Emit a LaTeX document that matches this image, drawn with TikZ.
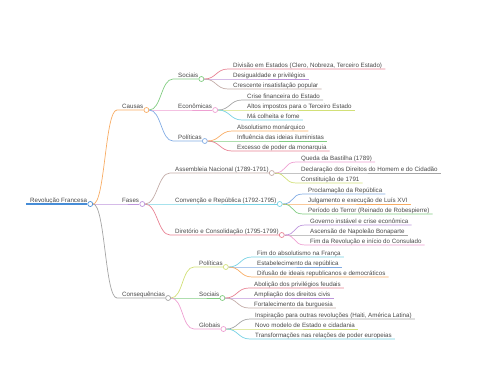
\documentclass[tikz,border=0pt]{standalone}
\usepackage{fontspec}
\setmainfont{Liberation Sans}
\usetikzlibrary{calc}
\definecolor{mmtext}{RGB}{72,72,72}
\definecolor{mmroot}{RGB}{70,140,215}
\definecolor{mmorange}{RGB}{248,172,100}
\definecolor{mmpurple}{RGB}{190,150,220}
\definecolor{mmgray}{RGB}{165,165,165}
\definecolor{mmgreen}{RGB}{130,205,130}
\definecolor{mmpink}{RGB}{238,160,210}
\definecolor{mmblue}{RGB}{130,172,228}
\definecolor{mmred}{RGB}{232,130,148}
\definecolor{mmbrown}{RGB}{195,172,168}
\definecolor{mmyellow}{RGB}{210,224,120}
\definecolor{mmcyan}{RGB}{120,210,228}
\tikzset{
  topic/.style={anchor=base west, inner sep=0pt, font=\fontsize{6.2}{7}\selectfont, text=mmtext},
  knot/.style={circle, draw=#1, fill=white, line width=0.7pt, minimum size=5pt, inner sep=0pt},
  branch/.style={draw=#1, line width=0.7pt}
}
% connector from a knot to a topic that has its own knot
\newcommand{\mmlink}[3]{\draw[branch=#3] (#1.east) .. controls +(12,0) and +(-12,0) .. ($(#2.base west)+(-5,2)$) -- (#2-k.west);}
% connector from a knot to a leaf
\newcommand{\mmleaf}[3]{\draw[branch=#3] (#1.east) .. controls +(12,0) and +(-12,0) .. ($(#2.base west)+(-5,2)$) -- ($(#2.base east)+(3,2)$);}

\begin{document}
\begin{tikzpicture}[x=1pt, y=-1pt]
\useasboundingbox (0,0) rectangle (480,384);

% root
\node[topic] (rev) at (30,202) {Revolução Francesa};
\node[knot=mmroot] (rev-k) at ($(rev.base east)+(3,2)$) {};
\draw[mmroot, line width=1.3pt] ($(rev.base west)+(-4,2)$) -- (rev-k.west);

% main branches
\node[topic] (causas) at (122,108) {Causas};
\node[topic] (fases) at (122,202) {Fases};
\node[topic] (cons) at (122,296) {Consequências};
\node[knot=mmorange] (causas-k) at ($(causas.base east)+(3,2)$) {};
\node[knot=mmpurple] (fases-k) at ($(fases.base east)+(3,2)$) {};
\node[knot=mmgray] (cons-k) at ($(cons.base east)+(3,2)$) {};
\mmlink{rev-k}{causas}{mmorange}
\mmlink{rev-k}{fases}{mmpurple}
\mmlink{rev-k}{cons}{mmgray}

% causas
\node[topic] (soc) at (178,77) {Sociais};
\node[topic] (eco) at (178,108) {Econômicas};
\node[topic] (pol) at (178,139) {Políticas};
\node[knot=mmgreen] (soc-k) at ($(soc.base east)+(3,2)$) {};
\node[knot=mmpink] (eco-k) at ($(eco.base east)+(3,2)$) {};
\node[knot=mmblue] (pol-k) at ($(pol.base east)+(3,2)$) {};
\mmlink{causas-k}{soc}{mmgreen}
\mmlink{causas-k}{eco}{mmpink}
\mmlink{causas-k}{pol}{mmblue}

% fases
\node[topic] (ass) at (175,171) {Assembleia Nacional (1789-1791)};
\node[topic] (conv) at (175,202) {Convenção e República (1792-1795)};
\node[topic] (dir) at (175,233) {Diretório e Consolidação (1795-1799)};
\node[knot=mmbrown] (ass-k) at ($(ass.base east)+(3,2)$) {};
\node[knot=mmcyan] (conv-k) at ($(conv.base east)+(3,2)$) {};
\node[knot=mmred] (dir-k) at ($(dir.base east)+(3,2)$) {};
\mmlink{fases-k}{ass}{mmbrown}
\mmlink{fases-k}{conv}{mmcyan}
\mmlink{fases-k}{dir}{mmred}

% consequencias
\node[topic] (cpol) at (199,265) {Políticas};
\node[topic] (csoc) at (199,296) {Sociais};
\node[topic] (cglob) at (199,327) {Globais};
\node[knot=mmyellow] (cpol-k) at ($(cpol.base east)+(3,2)$) {};
\node[knot=mmgreen] (csoc-k) at ($(csoc.base east)+(3,2)$) {};
\node[knot=mmpink] (cglob-k) at ($(cglob.base east)+(3,2)$) {};
\mmlink{cons-k}{cpol}{mmyellow}
\mmlink{cons-k}{csoc}{mmgreen}
\mmlink{cons-k}{cglob}{mmpink}

% leaves
\foreach \ly/\col/\txt [count=\i] in {69/mmred/{Divisão em Estados (Clero, Nobreza, Terceiro Estado)}, 79/mmpurple/{Desigualdade e privilégios}, 89/mmbrown/{Crescente insatisfação popular}}{
  \node[topic] (soc-\i) at (233,\ly-2) {\txt};
  \mmleaf{soc-k}{soc-\i}{\col}
}
\foreach \ly/\col/\txt [count=\i] in {100/mmgray/{Crise financeira do Estado}, 110/mmyellow/{Altos impostos para o Terceiro Estado}, 120/mmcyan/{Má colheita e fome}}{
  \node[topic] (eco-\i) at (247,\ly-2) {\txt};
  \mmleaf{eco-k}{eco-\i}{\col}
}
\foreach \ly/\col/\txt [count=\i] in {131/mmorange/{Absolutismo monárquico}, 141/mmgreen/{Influência das ideias iluministas}, 151/mmred/{Excesso de poder da monarquia}}{
  \node[topic] (pol-\i) at (237,\ly-2) {\txt};
  \mmleaf{pol-k}{pol-\i}{\col}
}
\foreach \ly/\col/\txt [count=\i] in {162/mmpink/{Queda da Bastilha (1789)}, 173/mmgray/{Declaração dos Direitos do Homem e do Cidadão}, 183/mmyellow/{Constituição de 1791}}{
  \node[topic] (ass-\i) at (301,\ly-2) {\txt};
  \mmleaf{ass-k}{ass-\i}{\col}
}
\foreach \ly/\col/\txt [count=\i] in {194/mmblue/{Proclamação da República}, 204/mmorange/{Julgamento e execução de Luís XVI}, 214/mmgreen/{Período do Terror (Reinado de Robespierre)}}{
  \node[topic] (conv-\i) at (308,\ly-2) {\txt};
  \mmleaf{conv-k}{conv-\i}{\col}
}
\foreach \ly/\col/\txt [count=\i] in {225/mmpurple/{Governo instável e crise econômica}, 235/mmgray/{Ascensão de Napoleão Bonaparte}, 245/mmpink/{Fim da Revolução e início do Consulado}}{
  \node[topic] (dir-\i) at (310,\ly-2) {\txt};
  \mmleaf{dir-k}{dir-\i}{\col}
}
\foreach \ly/\col/\txt [count=\i] in {257/mmcyan/{Fim do absolutismo na França}, 267/mmblue/{Estabelecimento da república}, 277/mmorange/{Difusão de ideais republicanos e democráticos}}{
  \node[topic] (cpol-\i) at (257,\ly-2) {\txt};
  \mmleaf{cpol-k}{cpol-\i}{\col}
}
\foreach \ly/\col/\txt [count=\i] in {288/mmred/{Abolição dos privilégios feudais}, 298/mmpurple/{Ampliação dos direitos civis}, 308/mmbrown/{Fortalecimento da burguesia}}{
  \node[topic] (csoc-\i) at (254,\ly-2) {\txt};
  \mmleaf{csoc-k}{csoc-\i}{\col}
}
\foreach \ly/\col/\txt [count=\i] in {319/mmgray/{Inspiração para outras revoluções (Haiti, América Latina)}, 329/mmyellow/{Novo modelo de Estado e cidadania}, 339/mmcyan/{Transformações nas relações de poder europeias}}{
  \node[topic] (cglob-\i) at (255,\ly-2) {\txt};
  \mmleaf{cglob-k}{cglob-\i}{\col}
}
\end{tikzpicture}
\end{document}
